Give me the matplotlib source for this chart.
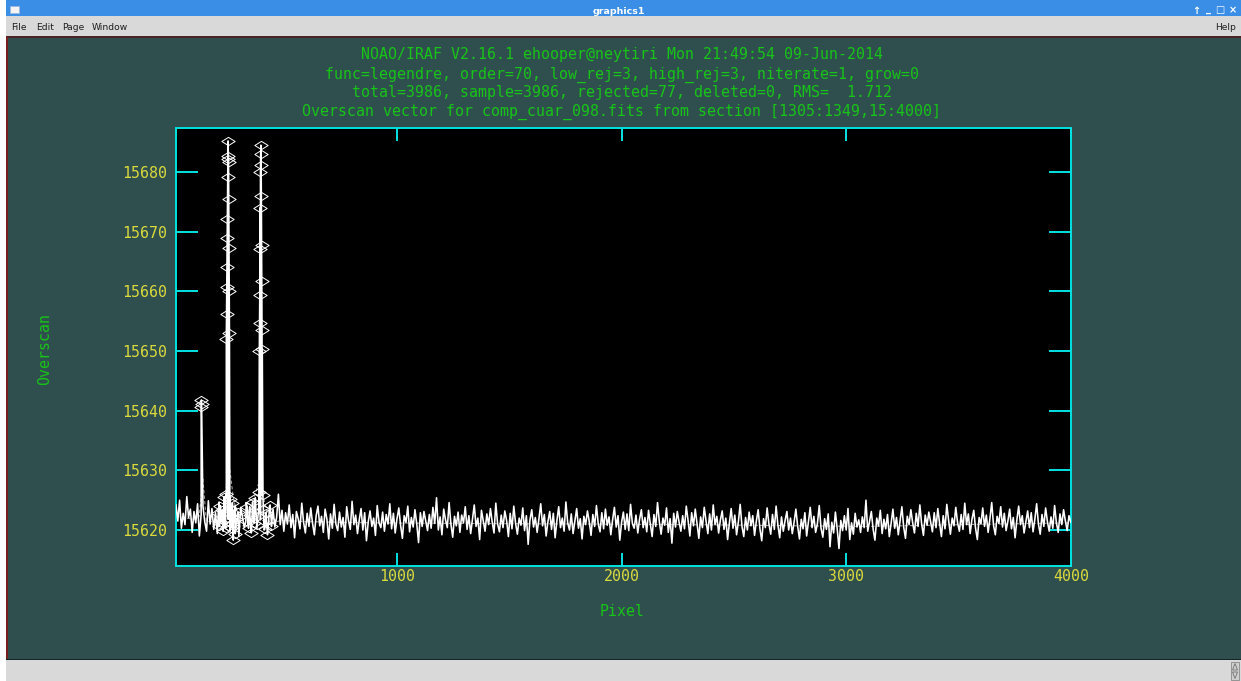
import numpy as np
import matplotlib
matplotlib.use("Agg")
import matplotlib.pyplot as plt
from matplotlib.patches import Rectangle, Polygon
from matplotlib.path import Path

plt.rcParams["font.family"] = ["DejaVu Sans Mono"]

W, H = 1241, 681

# ---------------- text content ----------------
window_title = "graphics1"
menu_items = [("File", 11), ("Edit", 36), ("Page", 62), ("Window", 92)]
title_lines = [
    "NOAO/IRAF V2.16.1 ehooper@neytiri Mon 21:49:54 09-Jun-2014",
    "func=legendre, order=70, low_rej=3, high_rej=3, niterate=1, grow=0",
    "total=3986, sample=3986, rejected=77, deleted=0, RMS=  1.712",
    "Overscan vector for comp_cuar_098.fits from section [1305:1349,15:4000]",
]
x_label = "Pixel"
y_label = "Overscan"
x_ticks = [1000, 2000, 3000, 4000]
y_ticks = [15620, 15630, 15640, 15650, 15660, 15670, 15680]
x_range = (15, 4000)
y_range = (15613.97, 15687.37)

# ---------------- data ----------------
# overscan vector sampled every 8 pixels starting at pixel 15
noise_values = [
    15624.2, 15621.5, 15625.0, 15620.3, 15622.8, 15620.9, 15625.6, 15622.1, 15623.5, 15619.6,
    15623.1, 15621.2, 15624.4, 15619.0, 15622.6, 15624.0, 15621.4, 15619.8, 15624.9, 15621.0,
    15623.6, 15620.1, 15622.9, 15619.4, 15624.7, 15621.3, 15623.0, 15620.6, 15625.3, 15621.8,
    15619.9, 15623.4, 15620.8, 15624.1, 15621.5, 15618.9, 15623.8, 15622.2, 15620.4, 15624.6,
    15621.1, 15623.9, 15619.7, 15622.5, 15624.3, 15620.2, 15623.2, 15621.7, 15625.8, 15620.0,
    15622.7, 15619.3, 15624.0, 15621.6, 15623.5, 15620.5, 15622.1, 15626.0, 15620.9, 15623.3,
    15619.8, 15622.9, 15621.0, 15624.2, 15620.4, 15622.6, 15618.7, 15623.1, 15621.9, 15620.2,
    15624.5, 15621.3, 15619.5, 15622.8, 15620.6, 15623.7, 15621.1, 15619.2, 15622.4, 15624.0,
    15620.7, 15622.3, 15619.6, 15623.5, 15621.8, 15618.5, 15622.7, 15620.3, 15624.3, 15621.0,
    15619.9, 15623.0, 15620.5, 15622.1, 15618.8, 15623.9, 15621.6, 15620.1, 15624.8, 15620.9,
    15622.5, 15619.4, 15621.7, 15623.6, 15620.0, 15622.9, 15618.2, 15621.4, 15623.2, 15620.6,
    15622.0, 15619.1, 15624.1, 15621.2, 15620.4, 15623.0, 15619.8, 15622.6, 15621.0, 15624.4,
    15620.2, 15622.8, 15619.5, 15621.9, 15623.7, 15620.8, 15618.6, 15622.4, 15621.3, 15624.0,
    15619.7, 15622.1, 15620.5, 15623.4, 15621.0, 15617.9, 15622.9, 15620.6, 15623.1, 15621.5,
    15619.9, 15622.6, 15620.3, 15623.8, 15621.1, 15625.4, 15620.0, 15622.2, 15619.2, 15623.5,
    15621.7, 15620.4, 15624.6, 15621.0, 15618.8, 15622.3, 15620.7, 15623.0, 15619.6, 15622.5,
    15621.2, 15623.9, 15620.1, 15622.4, 15619.4, 15621.8, 15624.2, 15620.6, 15622.0, 15618.4,
    15623.3, 15621.5, 15619.8, 15622.7, 15620.9, 15623.6, 15621.3, 15619.5, 15624.5, 15621.0,
    15619.7, 15622.5, 15620.4, 15623.2, 15621.6, 15618.9, 15622.8, 15620.2, 15624.0, 15621.1,
    15619.3, 15622.0, 15620.8, 15623.7, 15619.9, 15622.4, 15617.6, 15621.7, 15623.4, 15620.5,
    15622.1, 15619.6, 15621.9, 15624.4, 15620.7, 15622.6, 15619.0, 15621.4, 15623.1, 15620.1,
    15622.8, 15618.7, 15621.6, 15623.9, 15620.4, 15622.0, 15619.8, 15624.7, 15621.2, 15620.0,
    15622.7, 15619.4, 15621.5, 15623.6, 15620.3, 15621.9, 15618.5, 15622.3, 15620.9, 15623.2,
    15621.4, 15619.1, 15622.6, 15620.6, 15624.1, 15621.0, 15619.7, 15622.9, 15620.2, 15623.5,
    15620.8, 15622.2, 15619.2, 15621.7, 15623.8, 15620.5, 15622.4, 15618.3, 15621.3, 15623.0,
    15620.1, 15622.7, 15619.9, 15624.3, 15621.1, 15620.3, 15622.5, 15619.5, 15621.8, 15623.4,
    15620.4, 15622.1, 15619.7, 15623.3, 15621.0, 15618.9, 15622.6, 15620.6, 15624.6, 15621.4,
    15619.3, 15622.0, 15620.8, 15623.7, 15619.6, 15621.9, 15617.8, 15622.8, 15620.5, 15623.1,
    15621.3, 15619.8, 15622.4, 15620.2, 15624.0, 15621.6, 15619.0, 15622.9, 15620.7, 15623.5,
    15621.1, 15618.6, 15622.2, 15620.4, 15623.8, 15621.5, 15619.4, 15622.7, 15620.0, 15624.2,
    15620.9, 15622.3, 15619.5, 15621.7, 15623.2, 15620.1, 15622.0, 15618.4, 15621.2, 15623.6,
    15620.3, 15622.5, 15619.2, 15621.4, 15624.3, 15620.6, 15618.9, 15622.1, 15620.0, 15623.0,
    15620.7, 15622.4, 15619.1, 15621.5, 15623.4, 15620.2, 15618.2, 15621.9, 15620.4, 15623.7,
    15621.0, 15619.3, 15622.6, 15620.1, 15624.0, 15620.8, 15618.7, 15622.2, 15619.8, 15621.6,
    15623.1, 15620.0, 15622.0, 15619.4, 15621.3, 15623.5, 15620.6, 15618.5, 15621.8, 15620.2,
    15622.9, 15619.0, 15621.4, 15623.8, 15620.4, 15622.3, 15619.6, 15621.1, 15624.1, 15620.3,
    15618.8, 15621.9, 15620.1, 15622.7, 15617.2, 15621.3, 15619.5, 15623.0, 15620.2, 15616.9,
    15621.6, 15619.9, 15622.4, 15620.0, 15623.6, 15618.4, 15621.2, 15619.3, 15622.8, 15620.5,
    15621.7, 15619.6, 15622.2, 15620.4, 15625.0, 15619.8, 15621.5, 15623.1, 15620.1, 15618.3,
    15622.0, 15620.7, 15623.3, 15619.4, 15621.8, 15620.2, 15622.6, 15618.9, 15621.1, 15623.5,
    15620.3, 15622.1, 15619.2, 15621.6, 15623.9, 15620.5, 15618.6, 15622.3, 15620.9, 15623.4,
    15621.2, 15619.5, 15622.8, 15620.6, 15624.2, 15621.0, 15619.1, 15622.5, 15620.8, 15623.0,
    15621.4, 15619.7, 15622.9, 15620.4, 15623.6, 15621.1, 15618.9, 15622.4, 15620.2, 15624.3,
    15621.6, 15619.3, 15622.0, 15620.7, 15623.8, 15621.2, 15619.8, 15622.6, 15620.1, 15624.5,
    15620.9, 15622.7, 15619.4, 15621.8, 15623.3, 15620.3, 15618.4, 15622.1, 15621.0, 15623.7,
    15620.6, 15622.5, 15619.6, 15621.9, 15624.6, 15620.8, 15619.2, 15622.3, 15621.1, 15623.9,
    15620.5, 15622.8, 15619.9, 15621.5, 15623.5, 15620.2, 15622.1, 15618.7, 15621.7, 15624.0,
    15620.9, 15622.4, 15619.5, 15621.3, 15623.2, 15620.4, 15622.9, 15619.7, 15621.8, 15624.4,
    15621.0, 15619.3, 15622.6, 15620.6, 15623.7, 15621.4, 15619.8, 15622.2, 15620.3, 15624.1,
    15621.2, 15619.6, 15622.7, 15620.9, 15623.4, 15621.5, 15619.9, 15622.4, 15621.3,
]
noise_pixels = np.arange(15, 4000, 8)

# the three emission spikes (all of these points were rejected)
peak_pixels = [127, 128, 129,
               239, 240, 241, 242, 243, 244, 245, 246, 247, 248, 249, 250, 251, 252, 253,
               386, 387, 388, 389, 390, 391, 392, 393, 394, 395, 396, 397, 398, 399]
peak_values = [15640.6, 15641.8, 15641.1,
               15652.0, 15656.2, 15660.7, 15664.1, 15669.0, 15672.1, 15679.2, 15682.2,
               15685.2, 15682.7, 15681.7, 15675.5, 15667.3, 15660.1, 15653.0,
               15650.0, 15654.7, 15659.4, 15667.1, 15674.0, 15680.0, 15683.0, 15684.5,
               15681.2, 15676.0, 15667.8, 15661.7, 15653.5, 15650.3]

# rejected points at the baseline around the spikes
clump_pixels = [203, 208, 213, 217, 221, 225, 229, 233, 236, 237, 255, 257, 260, 263, 266,
                270, 274, 279, 284, 290,
                326, 332, 338, 344, 350, 356, 362, 368, 374, 380, 384, 402, 404, 410, 416,
                422, 428, 434, 440]
clump_values = [15622.8, 15620.6, 15624.1, 15621.4, 15623.3, 15619.8, 15625.6, 15621.9,
                15620.4, 15626.0, 15625.2, 15623.7, 15620.4, 15621.0, 15624.5, 15618.3,
                15622.9, 15619.4, 15621.8, 15623.0,
                15621.5, 15623.9, 15620.3, 15622.6, 15619.5, 15624.7, 15621.2, 15625.4,
                15620.8, 15622.4, 15626.3, 15625.8, 15623.6, 15620.1, 15622.9, 15619.2,
                15621.7, 15624.2, 15620.6]

# fitted legendre curve
fit_pixels = [15, 60, 100, 118, 135, 150, 200, 218, 235, 252, 270, 300, 331, 360, 381,
              400, 434, 480, 600, 900, 1300, 1800, 2300, 2800, 3100, 3500, 4000]
fit_values = [15622.3, 15622.0, 15621.8, 15622.3, 15628.5, 15621.5, 15621.3, 15621.0,
              15626.0, 15630.9, 15625.5, 15620.5, 15621.0, 15625.0, 15627.6, 15626.0,
              15621.0, 15621.6, 15621.4, 15621.2, 15621.1, 15621.0, 15620.9, 15620.7,
              15620.6, 15620.9, 15621.2]

# ---------------- colours ----------------
TEAL = "#2f4f4f"
GREEN = "#17c417"
YELLOW = "#dada3c"
CYAN = "#00e2e2"
GREY_UI = "#d9d9d9"
BLUE = "#3b8ee6"

fig = plt.figure(figsize=(W / 100, H / 100), dpi=100, facecolor="white")


def box(x0, y0, x1, y1, **kw):
    kw.setdefault("zorder", -10)
    kw.setdefault("linewidth", 0)
    fig.add_artist(Rectangle((x0 / W, 1 - y1 / H), (x1 - x0) / W, (y1 - y0) / H,
                             transform=fig.transFigure, **kw))


def ftext(x, y, s, **kw):
    fig.text(x / W, 1 - y / H, s, **kw)


def poly(pts, **kw):
    kw.setdefault("zorder", -9)
    fig.add_artist(Polygon([(px / W, 1 - py / H) for px, py in pts], closed=True,
                           transform=fig.transFigure, **kw))


# window chrome
box(6, 0, W, 16, facecolor=BLUE)
box(6, 16, W, 36, facecolor=GREY_UI)
box(6, 36, W, 37.5, facecolor="#4a2424")
box(6, 37.5, W, 659, facecolor=TEAL)
box(6, 37, 7.5, 659, facecolor="#7a1e1e", zorder=-9)
box(6, 659, W, 660, facecolor="#152626", zorder=-9)
box(6, 660, W, H, facecolor=GREY_UI)
box(10, 6, 19, 13, facecolor="#f4f4f4", edgecolor="#9ab8dc", linewidth=0.6, zorder=-9)
box(1231, 662, 1239, 680, facecolor="#cfcfcf", edgecolor="#8a8a8a", linewidth=0.6, zorder=-9)
poly([(1232.5, 670), (1235, 663.5), (1237.5, 670)], facecolor="none", edgecolor="#707070",
     linewidth=0.6)
poly([(1232.5, 672), (1235, 678.5), (1237.5, 672)], facecolor="none", edgecolor="#707070",
     linewidth=0.6)

ftext(619, 11.5, window_title, color="white", fontsize=6.8, fontweight="bold",
      family="DejaVu Sans", ha="center", va="center")
for sym, xx in [("\u2191", 1196), ("_", 1208), ("\u25a1", 1220), ("\u00d7", 1233)]:
    ftext(xx, 10.5 if sym != "_" else 8.5, sym, color="white", fontsize=7,
          fontweight="bold", family="DejaVu Sans", ha="center", va="center")
for name, xx in menu_items:
    ftext(xx, 27.5, name, color="#1e1e1e", fontsize=6.6, family="DejaVu Sans",
          ha="left", va="center")
ftext(1236, 27.5, "Help", color="#1e1e1e", fontsize=6.6, family="DejaVu Sans",
      ha="right", va="center")

# IRAF title block
for line, base in zip(title_lines, [59.5, 78.5, 97.5, 115.5]):
    ftext(622, base, line, color=GREEN, fontsize=10.7, ha="center", va="baseline")

# ---------------- plot ----------------
ax = fig.add_axes([176 / W, 1 - 566 / H, (1071 - 176) / W, (566 - 128) / H])
ax.set_facecolor("black")

# combined overscan vector
all_pix = np.concatenate([noise_pixels, peak_pixels, clump_pixels])
all_val = np.concatenate([noise_values, peak_values, clump_values])
order = np.argsort(all_pix, kind="stable")
ax.plot(fit_pixels, fit_values, color="#9a9a9a", linewidth=0.8,
        linestyle=(0, (3, 2)), zorder=2)
ax.plot(all_pix[order], all_val[order], color="white", linewidth=1.15, zorder=3)

diamond = Path([(-1, 0), (0, 0.62), (1, 0), (0, -0.62), (-1, 0)],
               [Path.MOVETO, Path.LINETO, Path.LINETO, Path.LINETO, Path.CLOSEPOLY])
ax.plot(list(peak_pixels) + list(clump_pixels), list(peak_values) + list(clump_values),
        linestyle="none", marker=diamond, markersize=9.6, markerfacecolor="none",
        markeredgecolor="white", markeredgewidth=0.7, zorder=4)

ax.set_xlim(*x_range)
ax.set_ylim(*y_range)
ax.set_xticks(x_ticks)
ax.set_yticks(y_ticks)
ax.set_xticklabels([str(t) for t in x_ticks])
ax.set_yticklabels([str(t) for t in y_ticks])
ax.minorticks_off()

for sp in ax.spines.values():
    sp.set_color(CYAN)
    sp.set_linewidth(1.4)
ax.tick_params(axis="y", direction="in", length=15.8, width=1.4, color=CYAN,
               left=True, right=True, labelcolor=YELLOW, labelsize=10.7, pad=6.5)
ax.tick_params(axis="x", direction="in", length=9.4, width=1.4, color=CYAN,
               top=True, bottom=True, labelcolor=YELLOW, labelsize=10.7, pad=2.5)

ax.set_xlabel(x_label, color=GREEN, fontsize=10.7)
ax.xaxis.set_label_coords(622 / W, 1 - 615.5 / H, transform=fig.transFigure)
ax.xaxis.label.set_va("baseline")
ax.set_ylabel(y_label, color=GREEN, fontsize=10.7)
ax.yaxis.set_label_coords(45 / W, 1 - 349 / H, transform=fig.transFigure)
ax.yaxis.label.set_va("center")
ax.yaxis.label.set_ha("center")

fig.savefig("out.png", dpi=100, facecolor=fig.get_facecolor())
